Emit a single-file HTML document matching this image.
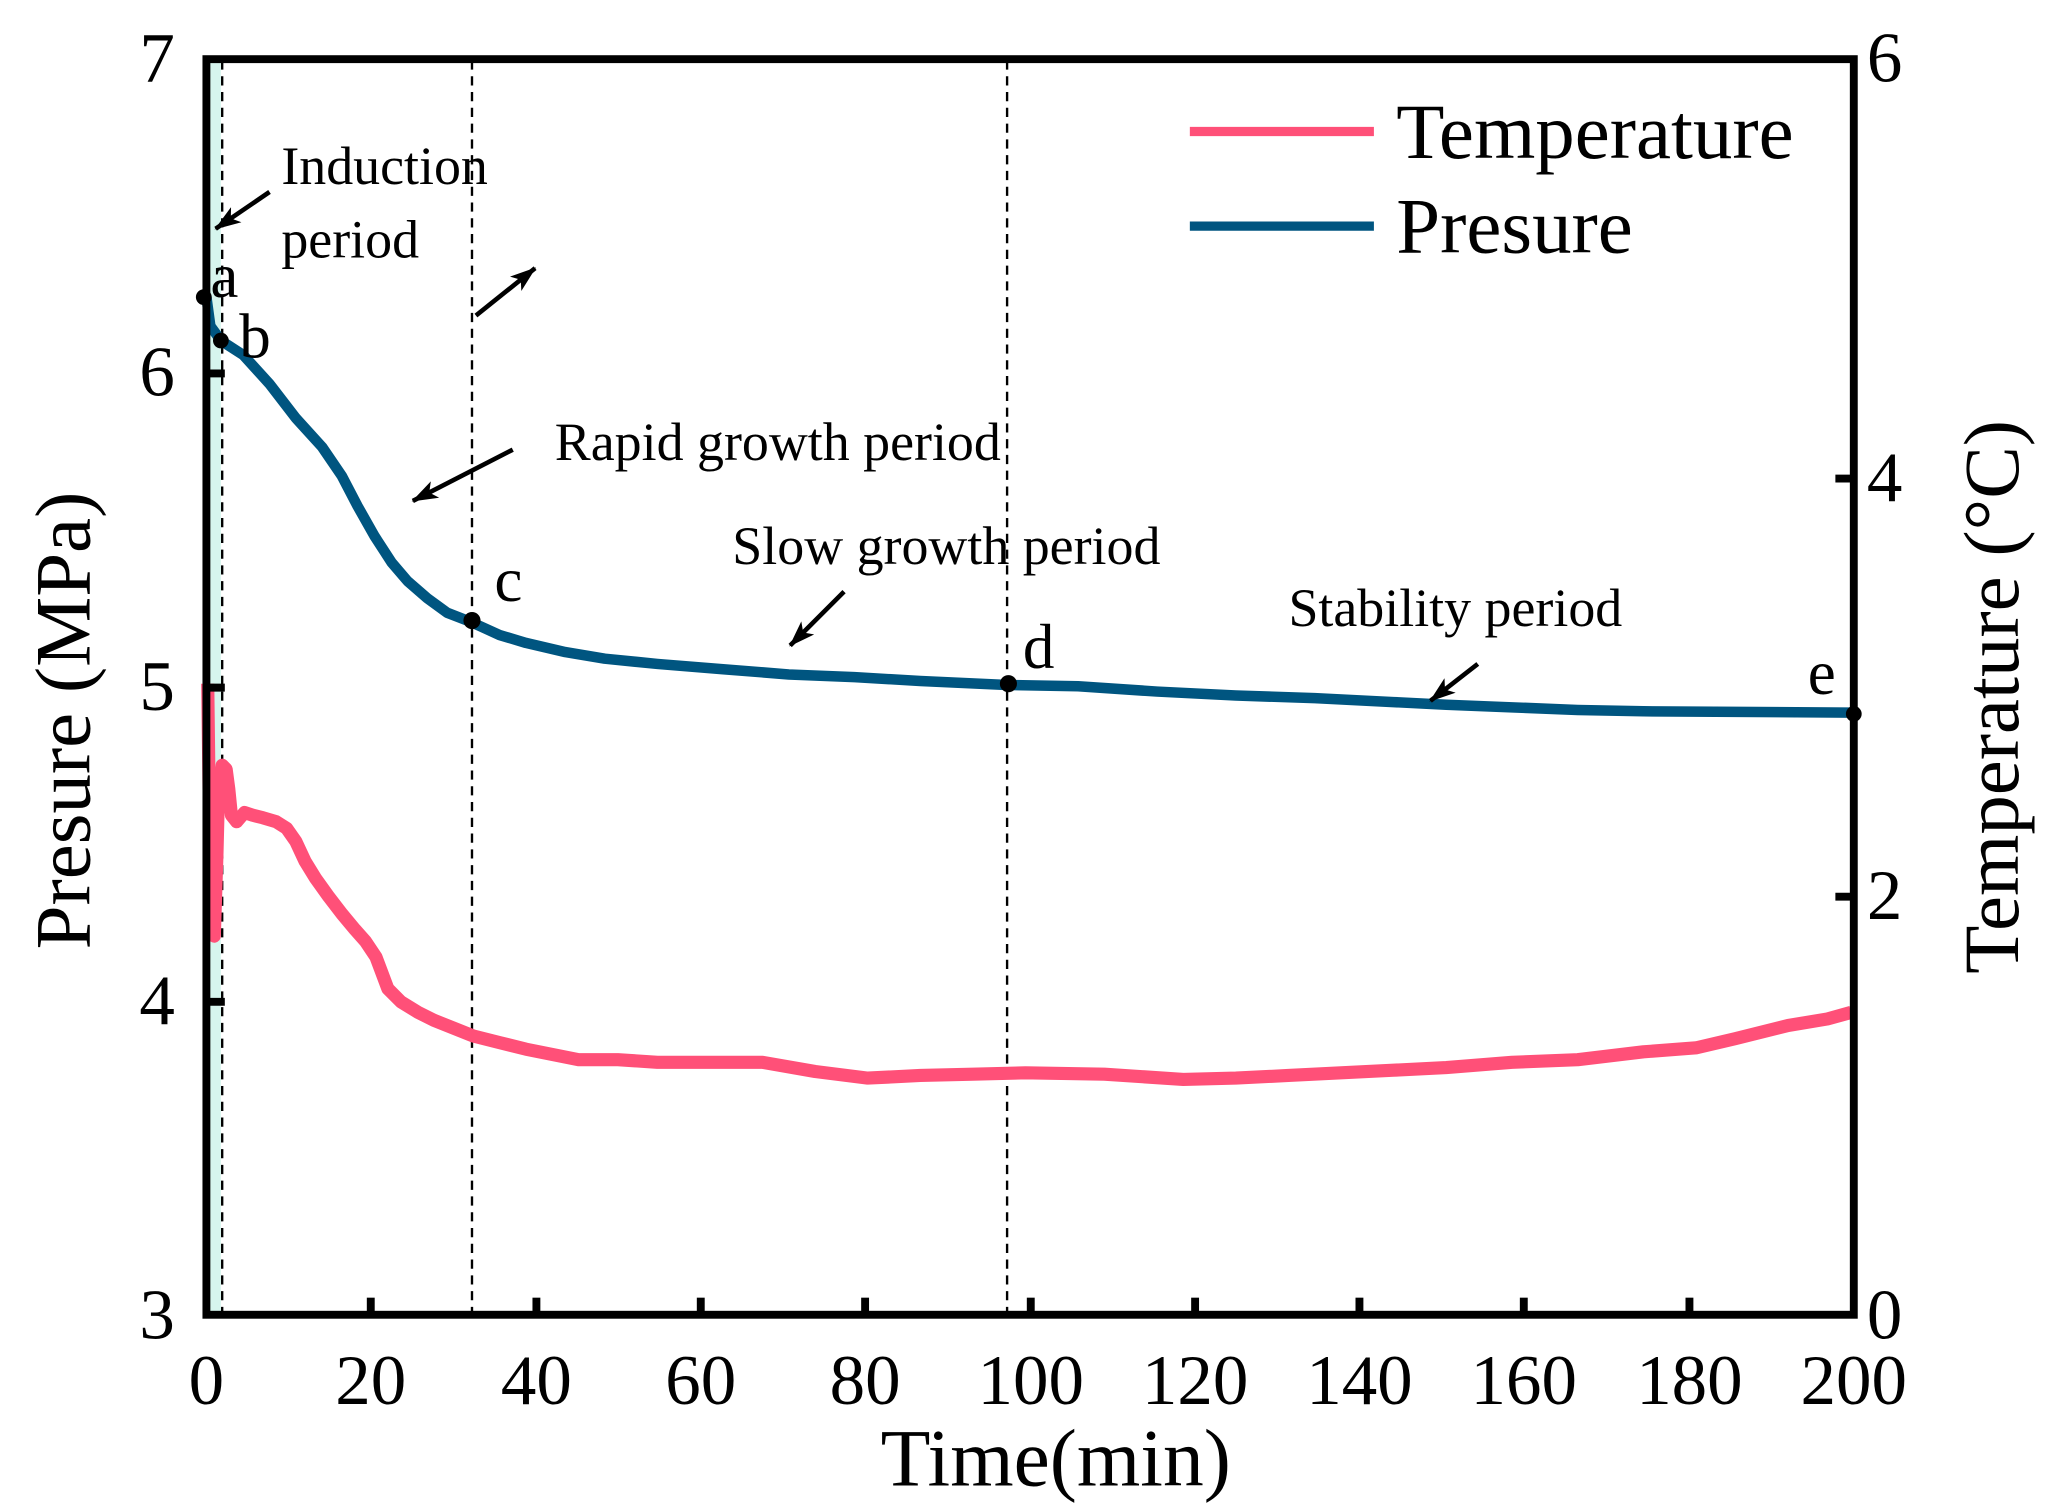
<!DOCTYPE html>
<html><head><meta charset="utf-8"><style>html,body{margin:0;padding:0;background:#fff}svg{display:block}</style></head>
<body>
<svg width="2051" height="1510" viewBox="0 0 1560 1148.5" preserveAspectRatio="none" xmlns="http://www.w3.org/2000/svg" font-family="'Liberation Serif', serif">
<defs>
<marker id="ah2" viewBox="0 0 20 14" refX="19" refY="7" markerWidth="20" markerHeight="14" orient="auto" markerUnits="userSpaceOnUse"><path d="M0,0 L20,7 L0,14 L5,7 Z" fill="#000"/></marker>
</defs>
<rect width="1560" height="1148.5" fill="#fff"/>
<rect x="159" y="46" width="9" height="952" fill="#d6f5ee"/>
<g stroke="#000" stroke-width="1.8" stroke-dasharray="7,5" fill="none">
<line x1="169" y1="46" x2="169" y2="998"/>
<line x1="359" y1="46" x2="359" y2="998"/>
<line x1="766" y1="46" x2="766" y2="998"/>
</g>
<polyline fill="none" stroke="#ff5078" stroke-width="10" stroke-linejoin="round" points="158,520 159,600 161,700 163,712 165,650 166,610 169,582 172,585 174,600 176,620 180,625 186,618 192,620 200,622 210,625 218,630 225,640 232,655 240,668 250,682 260,695 270,707 278,716 286,728 295,752 305,762 318,770 330,776 345,782 360,788 380,793 400,798 420,802 440,806 470,806 500,808 540,808 580,808 620,815 660,820 700,818 740,817 780,816 840,817 900,821 940,820 980,818 1020,816 1060,814 1100,812 1150,808 1200,806 1250,800 1290,797 1320,790 1360,780 1390,775 1408,770"/>
<polyline fill="none" stroke="#005580" stroke-width="8" stroke-linejoin="round" points="157,226 160,248 168,259 185,270 205,292 225,318 245,340 260,362 272,385 285,408 298,428 310,442 325,455 340,466 358,473 380,483 400,489 430,496 460,501 500,505 550,509 600,513 650,515 700,518 766,521 820,522 880,526 940,529 1000,531 1060,534 1100,536 1150,538 1200,540 1250,541 1408,542"/>
<g fill="#000">
<circle cx="155" cy="226" r="6"/><circle cx="168" cy="259" r="6"/><circle cx="359" cy="472" r="6.5"/><circle cx="767" cy="520" r="6.5"/><circle cx="1410" cy="543" r="6"/>
</g>
<rect x="157" y="45" width="1253" height="955" fill="none" stroke="#000" stroke-width="6"/>
<g stroke="#000" stroke-width="6">
<line x1="282" y1="1000" x2="282" y2="987"/><line x1="408" y1="1000" x2="408" y2="987"/><line x1="533" y1="1000" x2="533" y2="987"/><line x1="658" y1="1000" x2="658" y2="987"/><line x1="784" y1="1000" x2="784" y2="987"/><line x1="909" y1="1000" x2="909" y2="987"/><line x1="1034" y1="1000" x2="1034" y2="987"/><line x1="1159" y1="1000" x2="1159" y2="987"/><line x1="1285" y1="1000" x2="1285" y2="987"/>
<line x1="157" y1="284" x2="171" y2="284"/><line x1="157" y1="523" x2="171" y2="523"/><line x1="157" y1="762" x2="171" y2="762"/>
<line x1="1410" y1="364" x2="1396" y2="364"/><line x1="1410" y1="682" x2="1396" y2="682"/>
</g>
<g font-size="54" fill="#000" text-anchor="middle">
<text x="157" y="1068">0</text><text x="282" y="1068">20</text><text x="408" y="1068">40</text><text x="533" y="1068">60</text><text x="658" y="1068">80</text><text x="784" y="1068">100</text><text x="909" y="1068">120</text><text x="1034" y="1068">140</text><text x="1159" y="1068">160</text><text x="1285" y="1068">180</text><text x="1410" y="1068">200</text>
</g>
<g font-size="54" fill="#000" text-anchor="end">
<text x="133" y="62">7</text><text x="133" y="301">6</text><text x="133" y="540">5</text><text x="133" y="779">4</text><text x="133" y="1018">3</text>
</g>
<g font-size="54" fill="#000">
<text x="1420" y="62">6</text><text x="1420" y="381">4</text><text x="1420" y="699">2</text><text x="1420" y="1018">0</text>
</g>
<text x="803" y="1130" font-size="62" text-anchor="middle">Time(min)</text>
<text transform="translate(68,548) rotate(-90)" font-size="60" text-anchor="middle">Presure (MPa)</text>
<text transform="translate(1535,530) rotate(-90)" font-size="60" text-anchor="middle">Temperature (°C)</text>
<line x1="905" y1="100" x2="1045" y2="100" stroke="#ff5078" stroke-width="7"/>
<line x1="905" y1="172" x2="1045" y2="172" stroke="#005580" stroke-width="7"/>
<text x="1062" y="120" font-size="60">Temperature</text>
<text x="1062" y="192" font-size="60">Presure</text>
<g font-size="41" fill="#000">
<text x="214" y="140">Induction</text><text x="214" y="196">period</text>
<text x="422" y="350">Rapid growth period</text>
<text x="557" y="429">Slow growth period</text>
<text x="980" y="476">Stability period</text>
</g>
<g font-size="48" fill="#000">
<text x="160" y="226">a</text><text x="182" y="272">b</text><text x="376" y="457">c</text><text x="778" y="508">d</text><text x="1375" y="528">e</text>
</g>
<g stroke="#000" stroke-width="3.5" marker-end="url(#ah2)">
<line x1="205" y1="146" x2="164" y2="174"/>
<line x1="362" y1="240" x2="407" y2="204"/>
<line x1="390" y1="342" x2="314" y2="381"/>
<line x1="642" y1="450" x2="601" y2="491"/>
<line x1="1124" y1="505" x2="1088" y2="533"/>
</g>
</svg>
</body></html>
